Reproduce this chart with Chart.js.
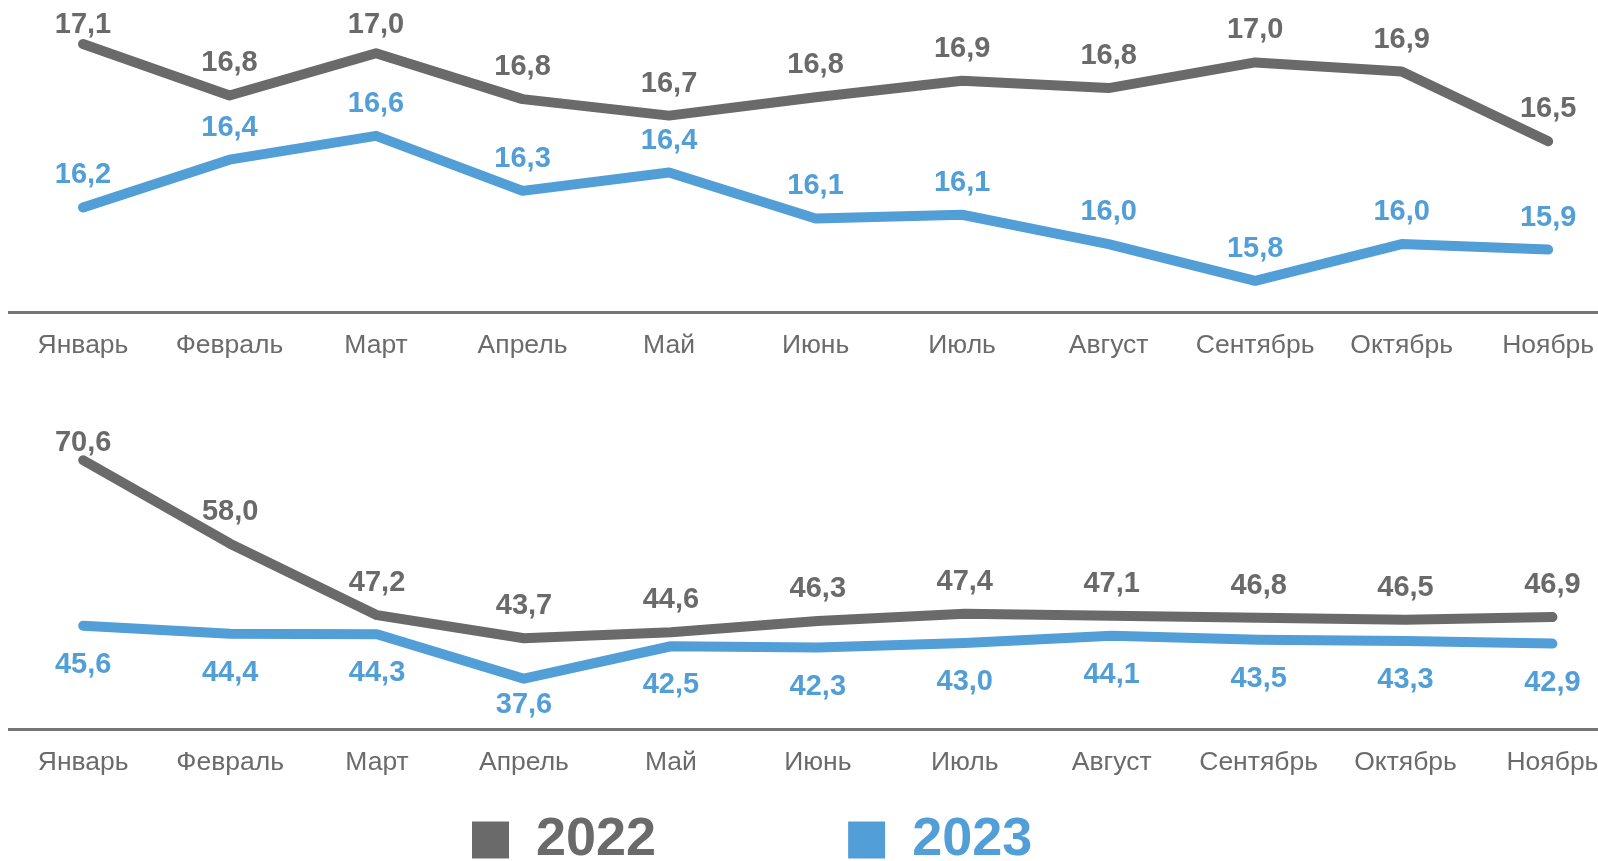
<!DOCTYPE html>
<html>
<head>
<meta charset="utf-8">
<script src="https://cdn.jsdelivr.net/npm/chart.js@4/dist/chart.umd.min.js"></script>
<style>
  html, body { margin: 0; padding: 0; background: #ffffff; overflow: hidden; }
  body { width: 1598px; height: 861px; position: relative; }
  .box { position: absolute; left: 0; width: 1598px; }
  #topBox { top: 0; height: 372px; }
  #botBox { top: 398px; height: 391px; }
  #legBox { left: 280px; top: 621px; width: 1200px; height: 800px; }
</style>
</head>
<body>
<div class="box" id="topBox"><canvas id="topChart"></canvas></div>
<div class="box" id="botBox"><canvas id="botChart"></canvas></div>
<div class="box" id="legBox"><canvas id="legChart"></canvas></div>
<script>
// ---- data ----
const months = ['Январь', 'Февраль', 'Март', 'Апрель', 'Май', 'Июнь', 'Июль', 'Август', 'Сентябрь', 'Октябрь', 'Ноябрь'];
const years = ['2022', '2023'];
const top2022 = [17.06, 16.78, 17.01, 16.76, 16.67, 16.77, 16.86, 16.82, 16.96, 16.91, 16.53];
const top2023 = [16.17, 16.43, 16.56, 16.26, 16.36, 16.11, 16.13, 15.97, 15.77, 15.97, 15.94];
const bot2022 = [70.6, 58.0, 47.2, 43.7, 44.6, 46.3, 47.4, 47.1, 46.8, 46.5, 46.9];
const bot2023 = [45.6, 44.4, 44.3, 37.6, 42.5, 42.3, 43.0, 44.1, 43.5, 43.3, 42.9];

// ---- style ----
const GRAY = '#6a6a6a';
const BLUE = '#529ed6';
const FONT = "'Liberation Sans', Arial, sans-serif";

const pointLabels = {
  id: 'pointLabels',
  afterDatasetsDraw(chart, args, opts) {
    const ctx = chart.ctx;
    const area = chart.chartArea;
    ctx.save();
    ctx.font = 'bold 29px ' + FONT;
    ctx.textAlign = 'center';
    ctx.textBaseline = 'middle';
    chart.data.datasets.forEach((ds, di) => {
      const meta = chart.getDatasetMeta(di);
      ctx.fillStyle = ds.borderColor;
      meta.data.forEach((pt, i) => {
        const v = ds.data[i].y;
        const txt = v.toFixed(1).replace('.', ',');
        let y;
        if (ds.labelPos === 'below') {
          y = Math.min(pt.y + opts.below, area.top + opts.maxY);
        } else {
          y = Math.max(pt.y - opts.above, area.top + opts.minY);
        }
        ctx.fillText(txt, pt.x, y);
      });
    });
    ctx.restore();
  }
};

function toXY(arr) { return arr.map((v, i) => ({ x: i, y: v })); }

function makeChart(id, d22, d23, ymin, ymax, xmax, lblOpts, pos23) {
  return new Chart(document.getElementById(id), {
    type: 'line',
    data: {
      datasets: [
        { label: years[0], data: toXY(d22), borderColor: GRAY, backgroundColor: GRAY, labelPos: 'above' },
        { label: years[1], data: toXY(d23), borderColor: BLUE, backgroundColor: BLUE, labelPos: pos23 }
      ]
    },
    options: {
      responsive: true,
      maintainAspectRatio: false,
      animation: false,
      events: [],
      layout: { padding: { left: 9, right: 0, top: 0, bottom: 0 } },
      elements: {
        line: { borderWidth: 10, tension: 0, borderCapStyle: 'round', borderJoinStyle: 'round', fill: false },
        point: { radius: 0, hoverRadius: 0 }
      },
      plugins: {
        legend: { display: false },
        tooltip: { enabled: false },
        pointLabels: lblOpts
      },
      scales: {
        x: {
          type: 'linear',
          min: -0.505,
          max: xmax,
          grid: { display: false, drawTicks: false },
          border: { display: true, color: '#767676', width: 3 },
          afterBuildTicks: s => { s.ticks = months.map((m, i) => ({ value: i })); },
          afterFit: s => { s.height = 60; s.paddingLeft = 0; s.paddingRight = 0; },
          ticks: {
            autoSkip: false,
            maxRotation: 0,
            padding: 18,
            color: '#6b6b6b',
            font: { family: FONT, size: 26.5 },
            callback: v => months[v]
          }
        },
        y: { display: false, min: ymin, max: ymax }
      }
    },
    plugins: [pointLabels]
  });
}

makeChart('topChart', top2022, top2023, 15.6, 17.3, 10.34, { above: 32, below: 39, minY: 25, maxY: 1000 }, 'above');
makeChart('botChart', bot2022, bot2023, 30, 80, 10.31, { above: 32, below: 39, minY: 45, maxY: 307 }, 'below');

new Chart(document.getElementById('legChart'), {
  type: 'line',
  data: { datasets: [] },
  options: {
    responsive: true,
    maintainAspectRatio: false,
    animation: false,
    events: [],
    layout: { padding: 0 },
    scales: { x: { display: false }, y: { display: false } },
    plugins: {
      tooltip: { enabled: false },
      legend: {
        display: true,
        position: 'top',
        align: 'start',
        labels: {
          boxWidth: 37,
          boxHeight: 37,
          padding: 192,
          font: { family: FONT, size: 54, weight: 'bold' },
          generateLabels: () => years.map((y, i) => ({
            text: y,
            fillStyle: i === 0 ? GRAY : BLUE,
            strokeStyle: i === 0 ? GRAY : BLUE,
            fontColor: i === 0 ? GRAY : BLUE,
            lineWidth: 0,
            hidden: false,
            datasetIndex: i
          }))
        }
      }
    }
  }
});
</script>
</body>
</html>
